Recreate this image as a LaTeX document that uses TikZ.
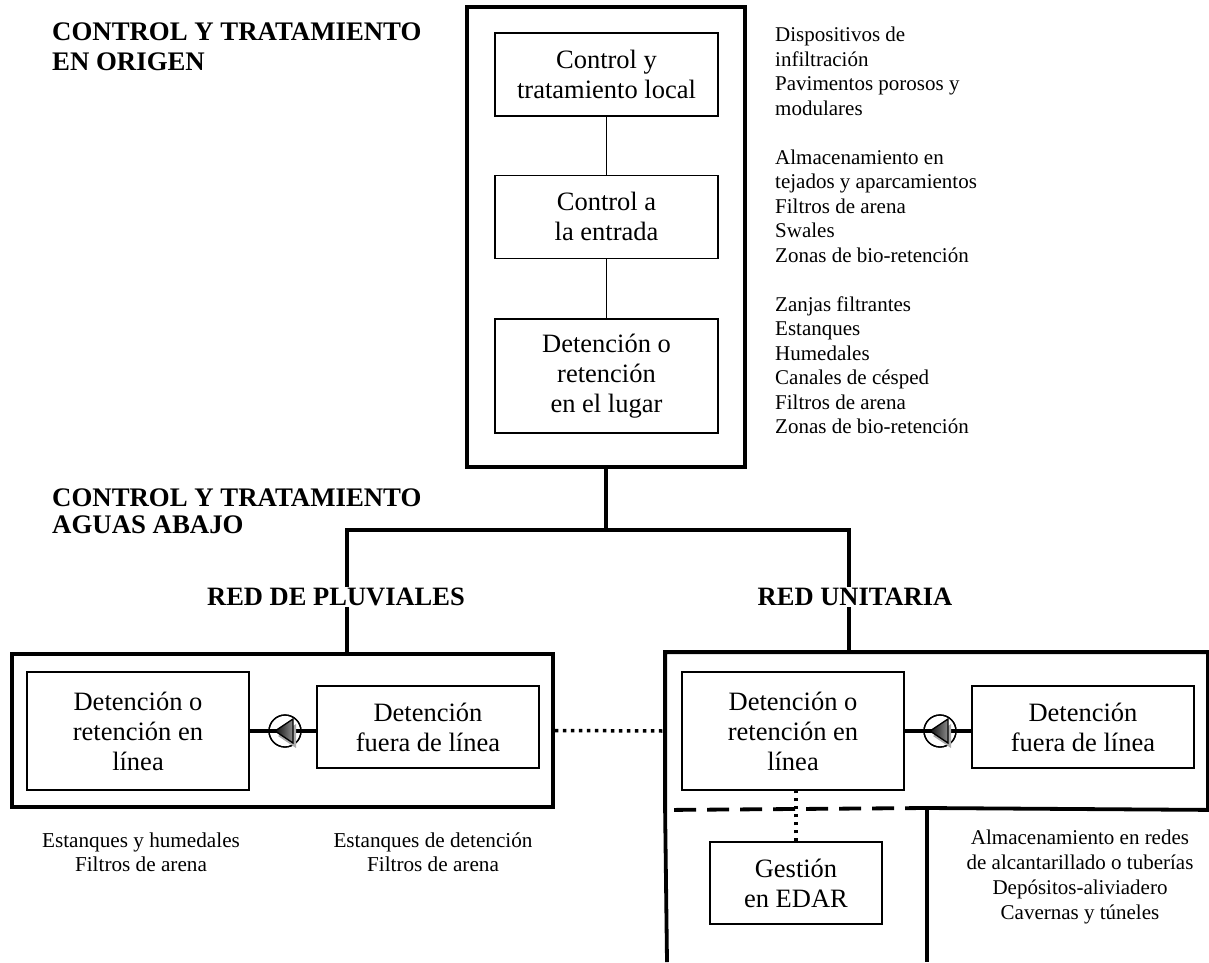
\documentclass[tikz,border=0pt]{standalone}
\usepackage{fontspec}
\setmainfont{Liberation Serif}
\usetikzlibrary{positioning}

\begin{document}
\begin{tikzpicture}[x=1pt,y=-1pt,
        box/.style={draw,line width=1.4pt,align=center,inner sep=0pt,font=\fontsize{26.5}{30}\selectfont},
        frame/.style={line width=3.8pt},
        link/.style={line width=3.5pt},
        thin/.style={line width=1.3pt},
        head/.style={font=\bfseries\fontsize{26.8}{30}\selectfont,align=left,inner sep=0pt},
        net/.style={font=\bfseries\fontsize{26.5}{30}\selectfont,fill=white,inner sep=1pt},
        list/.style={font=\fontsize{21}{24.5}\selectfont,align=left,inner sep=0pt},
        note/.style={font=\fontsize{21.2}{24}\selectfont,align=center,inner sep=0pt},
        pump/.style={circle,draw,line width=1.3pt,minimum size=32pt,inner sep=0pt}]
        \useasboundingbox (0,0) rectangle (1209,962);

        % control en origen
        \node[box,minimum width=223pt,minimum height=83pt] (local) at (606.5,74.5) {Control y\\tratamiento local};
        \node[box,minimum width=223pt,minimum height=83pt] (entrada) [below=58pt of local] {Control a\\la entrada};
        \node[box,minimum width=223pt,minimum height=114pt] (lugar) [below=59pt of entrada] {Detención o\\retención\\en el lugar};
        \node[draw,frame,minimum width=278pt,minimum height=460pt] (origen) at (606,237) {};
        \draw[thin] (local) -- (entrada);
        \draw[thin] (entrada) -- (lugar);

        \node[head,anchor=west] (hdorigen) at (52,47) {CONTROL Y TRATAMIENTO\\EN ORIGEN};
        \node[head,anchor=west,font=\bfseries\fontsize{26.8}{27}\selectfont] (hdabajo) at (52,511) {CONTROL Y TRATAMIENTO\\AGUAS ABAJO};
        \node[list,anchor=north west] (listorigen) at (775,27) {Dispositivos de\\infiltración\\Pavimentos porosos y\\modulares\\[24.5pt]Almacenamiento en\\tejados y aparcamientos\\Filtros de arena\\Swales\\Zonas de bio-retención\\[24.5pt]Zanjas filtrantes\\Estanques\\Humedales\\Canales de césped\\Filtros de arena\\Zonas de bio-retención};

        % aguas abajo
        \node[draw,frame,minimum width=541pt,minimum height=153pt] (pluvbox) at (282.5,730.5) {};
        \node[frame,minimum width=539pt,minimum height=154pt] (unitbox) at (936.5,731) {};
        \node[box,minimum width=222pt,minimum height=118pt] (pluvlinea) at (138,731) {Detención o\\retención en\\línea};
        \node[pump] (pluvpump) at (285,731) {};
        \node[box,minimum width=222pt,minimum height=82pt] (pluvfuera) at (428,727) {Detención\\fuera de línea};
        \node[box,minimum width=222pt,minimum height=118pt] (unitlinea) at (793,731) {Detención o\\retención en\\línea};
        \node[pump] (unitpump) at (940,731) {};
        \node[box,minimum width=222pt,minimum height=82pt] (unitfuera) at (1083,727) {Detención\\fuera de línea};
        \node[box,minimum width=172pt,minimum height=82pt] (edar) at (796,883) {Gestión\\en EDAR};

        \coordinate (split) at (606,530);
        \coordinate (jl) at (347,530);
        \coordinate (jr) at (849,530);
        \coordinate (cut) at (927,808);
        \coordinate (footl) at (667,962);
        \coordinate (footr) at (927,962);
        \draw[link] (origen.south) -- (split);
        \draw[link] (jl |- pluvbox.north) -- (jl) -- (jr) -- (jr |- unitbox.north);
        \draw[frame] (unitbox.south west) -- (unitbox.north west) -- (unitbox.north east) -- (unitbox.south east) -- (cut);
        \draw[frame,dash pattern=on 22pt off 11pt] (unitbox.south west) ++(9,0) -- (cut);
        \draw[frame] (unitbox.south west) -- (footl);
        \draw[frame] (cut) -- (footr);
        \draw[link,dash pattern=on 3.5pt off 4.5pt] (pluvbox.east) -- (unitbox.west);
        \draw[link,dash pattern=on 3.5pt off 4.5pt] (edar.north) -- (edar.north |- unitlinea.south);

        % bombas
        \draw[link] (pluvlinea.east) -- (pluvfuera.west |- pluvlinea.east);
        \draw[link] (unitlinea.east) -- (unitfuera.west |- unitlinea.east);
        \foreach \p in {pluvpump,unitpump} {
            \node[pump] at (\p) {};
            \fill[gray!65] ([shift={(3,5)}]\p.center) ++(-10,0) -- ++(18,-12) -- ++(0,24) -- cycle;
            \shade[left color=black!95,right color=black!45,draw=black,thin] (\p.center) ++(-10,0) -- ++(18,-12) -- ++(0,24) -- cycle;
        }

        \node[net] (pluvlbl) at (336,597) {RED DE PLUVIALES};
        \node[net] (unitlbl) at (855,597) {RED UNITARIA};
        \node[note] (pluvnota) at (141,852) {Estanques y humedales\\Filtros de arena};
        \node[note] (fueranota) at (433,852) {Estanques de detención\\Filtros de arena};
        \node[note,font=\fontsize{21}{24.7}\selectfont] (unitnota) at (1080,877) {Almacenamiento en redes\\de alcantarillado o tuberías\\Depósitos-aliviadero\\Cavernas y túneles};
    \end{tikzpicture}
\end{document}
